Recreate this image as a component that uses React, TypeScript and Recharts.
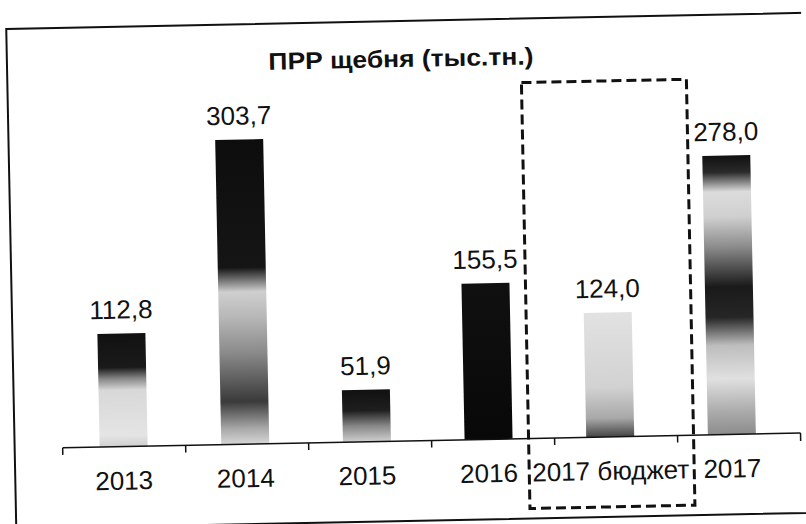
import React from 'react';
import { BarChart, Bar, XAxis, YAxis, Cell, LabelList } from 'recharts';

const categories = ['2013', '2014', '2015', '2016', '2017 бюджет', '2017'];
const volumes = [112.8, 303.7, 51.9, 155.5, 124.0, 278.0];
const chartTitle = 'ПРР щебня (тыс.тн.)';

const data = categories.map((year, i) => ({ year, value: volumes[i] }));

const W = 806;
const H = 524;
const PLOT_LEFT = 59;
const PLOT_RIGHT = 797;
const PLOT_TOP = 130;
const PLOT_BOTTOM = 441;
const BAND = (PLOT_RIGHT - PLOT_LEFT) / categories.length;
const FONT = '"Liberation Sans", Arial, sans-serif';

// scanned look: each bar has its own grey banding
const barShades: [number, string][][] = [
    [[0, '#111'], [0.3, '#1a1a1a'], [0.4, '#888'], [0.5, '#d8d8d8'], [0.9, '#e4e4e4'], [1, '#cfcfcf']],
    [[0, '#0d0d0d'], [0.42, '#151515'], [0.5, '#cfcfcf'], [0.58, '#b8b8b8'], [0.7, '#8a8a8a'], [0.86, '#3a3a3a'], [0.95, '#aaa'], [1, '#d6d6d6']],
    [[0, '#111'], [0.4, '#1e1e1e'], [0.7, '#888'], [1, '#cfcfcf']],
    [[0, '#101010'], [1, '#080808']],
    [[0, '#e2e2e2'], [0.6, '#d2d2d2'], [0.85, '#a8a8a8'], [1, '#444']],
    [[0, '#111'], [0.06, '#2a2a2a'], [0.13, '#dcdcdc'], [0.22, '#cfcfcf'], [0.33, '#8a8a8a'], [0.47, '#1a1a1a'], [0.58, '#262626'], [0.68, '#bdbdbd'], [0.8, '#e0e0e0'], [0.92, '#aaa'], [1, '#8c8c8c']],
];

const fmt = (v: any) => Number(v).toFixed(1).replace('.', ',');

const YearTick = ({ x, index, payload }: any) => {
    const left = PLOT_LEFT + index * BAND;
    return (
        <g>
            <line x1={left} x2={left} y1={PLOT_BOTTOM} y2={PLOT_BOTTOM + 7} stroke="#111" strokeWidth={1.5} />
            {index === categories.length - 1 && (
                <line x1={PLOT_RIGHT} x2={PLOT_RIGHT} y1={PLOT_BOTTOM} y2={PLOT_BOTTOM + 8} stroke="#111" strokeWidth={1.5} />
            )}
            <text x={x} y={484} textAnchor="middle" fontSize={26} fontFamily={FONT} fill="#111">
                {payload.value}
            </text>
        </g>
    );
};

const App: React.FC = () => {
    return (
        <div style={{ position: 'absolute', left: 0, top: 0, width: W, height: H, overflow: 'hidden', background: '#fff' }}>
            <div style={{ position: 'absolute', left: 0, top: 0, width: W, height: H, transform: 'rotate(-1.15deg)', transformOrigin: '50% 50%' }}>
                <BarChart
                    width={W}
                    height={H}
                    data={data}
                    margin={{ top: PLOT_TOP, right: W - PLOT_RIGHT, left: PLOT_LEFT, bottom: H - PLOT_BOTTOM - 30 }}
                    barSize={48}
                >
                    <defs>
                        {barShades.map((stops, i) => (
                            <linearGradient key={i} id={`shade${i}`} x1="0" y1="0" x2="0" y2="1">
                                {stops.map(([o, c], j) => (
                                    <stop key={j} offset={o} stopColor={c} />
                                ))}
                            </linearGradient>
                        ))}
                    </defs>
                    <XAxis
                        dataKey="year"
                        height={30}
                        interval={0}
                        tickLine={false}
                        axisLine={{ stroke: '#111', strokeWidth: 1.5 }}
                        padding={{ left: 0, right: 8 }}
                        tick={<YearTick />}
                    />
                    <YAxis hide domain={[0, 310]} />
                    <Bar dataKey="value" isAnimationActive={false}>
                        {data.map((_, i) => (
                            <Cell key={i} fill={`url(#shade${i})`} />
                        ))}
                        <LabelList
                            dataKey="value"
                            position="top"
                            offset={15}
                            formatter={fmt}
                            style={{ fontSize: 26, fontFamily: FONT, fill: '#111' }}
                        />
                    </Bar>
                </BarChart>
                <svg width={W} height={H} style={{ position: 'absolute', left: 0, top: 0, pointerEvents: 'none' }}>
                    <rect x={11} y={21} width={900} height={500} fill="none" stroke="#111" strokeWidth={2} />
                    <rect x={525} y={85} width={165} height={426} fill="none" stroke="#111" strokeWidth={3} strokeDasharray="10 5" />
                    <text
                        x={405}
                        y={67}
                        textAnchor="middle"
                        fontSize={24}
                        fontWeight="bold"
                        fontFamily={FONT}
                        fill="#111"
                        textLength={265}
                        lengthAdjust="spacingAndGlyphs"
                    >
                        {chartTitle}
                    </text>
                </svg>
            </div>
        </div>
    );
};

export default App;
